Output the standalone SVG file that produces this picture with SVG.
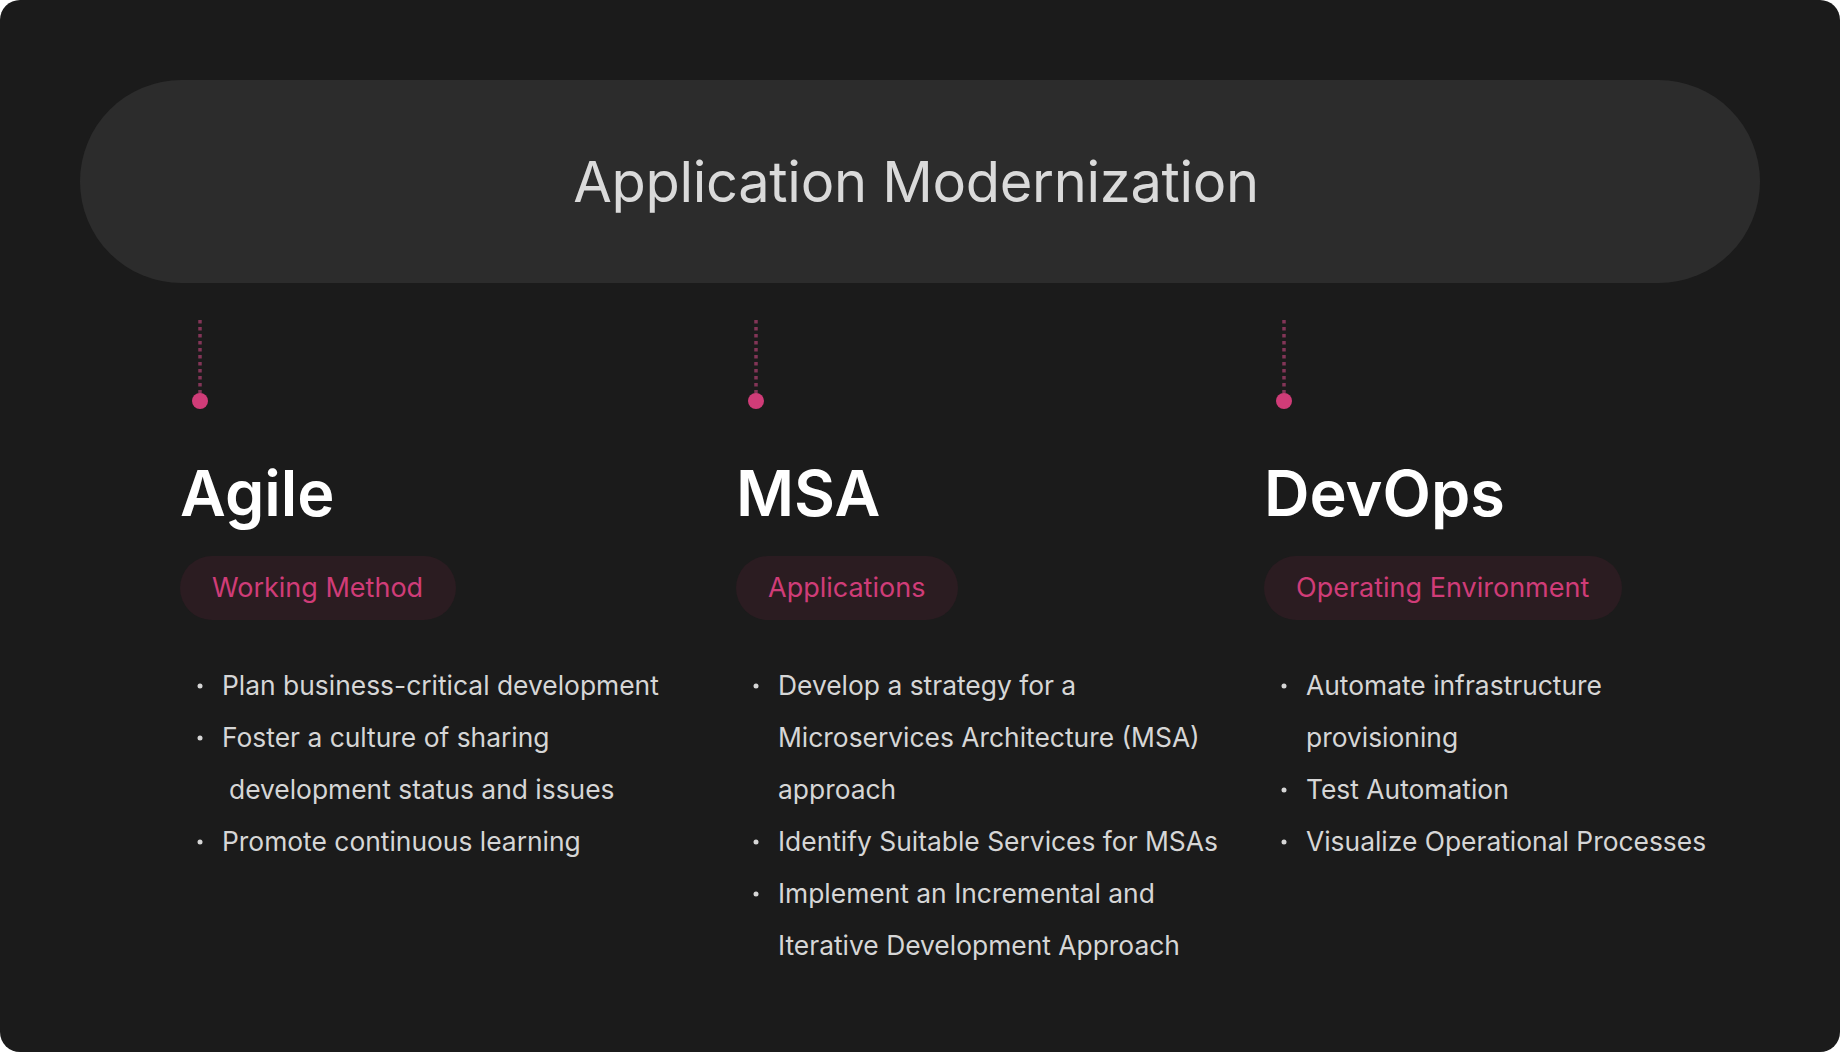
<svg xmlns="http://www.w3.org/2000/svg" width="1840" height="1052" viewBox="0 0 1840 1052">
<style>
.title{font-family:Inter,"Liberation Sans",sans-serif;font-size:56px;fill:#dadada;text-anchor:middle;letter-spacing:-0.3px}
.head{font-family:Inter,"Liberation Sans",sans-serif;font-size:63px;font-weight:600;fill:#ffffff}
.tagbg{fill:#2b1c21}
.tag{font-family:Inter,"Liberation Sans",sans-serif;font-size:27px;fill:#d03c78}
.item{font-family:Inter,"Liberation Sans",sans-serif;font-size:26.4px;fill:#d6d6d6}
.dot{fill:#d6d6d6}
.conn{stroke:#823557;stroke-width:3.5;stroke-dasharray:3.5 3.5;fill:none}
.knob{fill:#d03c78}
</style>
<rect x="0" y="0" width="1840" height="1052" rx="20" fill="#1b1b1b"/>
<g id="root">
<rect x="80" y="80" width="1680" height="203" rx="101.5" fill="#2c2c2c"/>
<text class="title" x="916" y="202">Application Modernization</text>
</g>
<g id="connectors">
<line class="conn" x1="200" y1="320" x2="200" y2="396"/>
<circle class="knob" cx="200" cy="401" r="8"/>
<line class="conn" x1="756" y1="320" x2="756" y2="396"/>
<circle class="knob" cx="756" cy="401" r="8"/>
<line class="conn" x1="1284" y1="320" x2="1284" y2="396"/>
<circle class="knob" cx="1284" cy="401" r="8"/>
</g>
<g id="agile">
<text class="head" x="180" y="516">Agile</text>
<rect class="tagbg" x="180" y="556" width="276" height="64" rx="32"/>
<text class="tag" x="212" y="597">Working Method</text>
<circle class="dot" cx="200" cy="686" r="2.5"/>
<text class="item" x="222" y="695">Plan business-critical development</text>
<circle class="dot" cx="200" cy="738" r="2.5"/>
<text class="item" x="222" y="747">Foster a culture of sharing</text>
<text class="item" x="229" y="799">development status and issues</text>
<circle class="dot" cx="200" cy="842" r="2.5"/>
<text class="item" x="222" y="851">Promote continuous learning</text>
</g>
<g id="msa">
<text class="head" x="736" y="516">MSA</text>
<rect class="tagbg" x="736" y="556" width="222" height="64" rx="32"/>
<text class="tag" x="768" y="597">Applications</text>
<circle class="dot" cx="756" cy="686" r="2.5"/>
<text class="item" x="778" y="695">Develop a strategy for a</text>
<text class="item" x="778" y="747">Microservices Architecture (MSA)</text>
<text class="item" x="778" y="799">approach</text>
<circle class="dot" cx="756" cy="842" r="2.5"/>
<text class="item" x="778" y="851">Identify Suitable Services for MSAs</text>
<circle class="dot" cx="756" cy="894" r="2.5"/>
<text class="item" x="778" y="903">Implement an Incremental and</text>
<text class="item" x="778" y="955">Iterative Development Approach</text>
</g>
<g id="devops">
<text class="head" x="1264" y="516">DevOps</text>
<rect class="tagbg" x="1264" y="556" width="358" height="64" rx="32"/>
<text class="tag" x="1296" y="597">Operating Environment</text>
<circle class="dot" cx="1284" cy="686" r="2.5"/>
<text class="item" x="1306" y="695">Automate infrastructure</text>
<text class="item" x="1306" y="747">provisioning</text>
<circle class="dot" cx="1284" cy="790" r="2.5"/>
<text class="item" x="1306" y="799">Test Automation</text>
<circle class="dot" cx="1284" cy="842" r="2.5"/>
<text class="item" x="1306" y="851">Visualize Operational Processes</text>
</g>
</svg>
